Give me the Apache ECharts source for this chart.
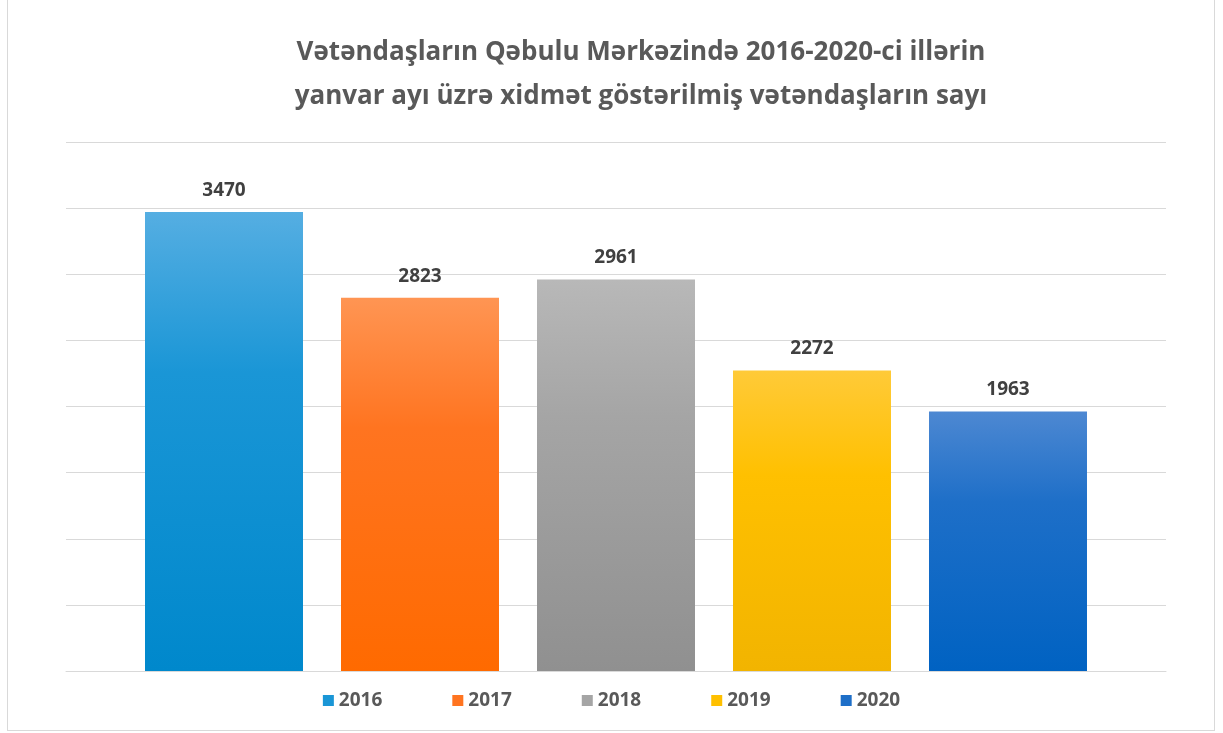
<!DOCTYPE html><html><head><meta charset="utf-8">
<script src="https://cdn.jsdelivr.net/npm/echarts@6/dist/echarts.min.js"></script>
<style>html,body{margin:0;padding:0;background:#fff}#c{width:1223px;height:733px}
#f{position:absolute;left:7px;top:-2px;width:1206px;height:731px;border:1px solid #d9d9d9;pointer-events:none}</style>
</head><body><div id="c"></div><div id="f"></div><script>
const years=['2016','2017','2018','2019','2020'];
const values=[3470,2823,2961,2272,1963];
const topColors=['#55aee2','#ff9553','#b8b8b8','#ffca38','#4d88d2'];
const botColors=['#0088cc','#ff6a00','#909090','#f2b400','#0062c2'];
const legendColors=['#1a96d6','#ff7420','#a5a5a5','#ffc000','#1e6fc8'];
const ch=echarts.init(document.getElementById('c'));
ch.setOption({
 animation:false,
 title:{text:'Vətəndaşların Qəbulu Mərkəzində 2016-2020-ci illərin\nyanvar ayı üzrə xidmət göstərilmiş vətəndaşların sayı',left:636,top:26,textAlign:'center',
  textStyle:{fontFamily:'Open Sans',fontSize:26,fontWeight:'bold',color:'#595959',lineHeight:44}},
 grid:{left:66,right:57,top:142,bottom:62},
 legend:{bottom:18,left:'center',itemWidth:11,itemHeight:11,itemGap:70,icon:'rect',
  textStyle:{fontFamily:'Open Sans',fontSize:19,fontWeight:'bold',color:'#595959'},
  data:years.map((y,i)=>({name:y,itemStyle:{color:legendColors[i]}}))},
 xAxis:{type:'category',data:[''],axisLine:{lineStyle:{color:'#d9d9d9'}},axisTick:{show:false},axisLabel:{show:false}},
 yAxis:{type:'value',min:0,max:4000,interval:500,axisLabel:{show:false},splitLine:{lineStyle:{color:'#d9d9d9'}}},
 series:years.map((y,i)=>({name:y,type:'bar',data:[values[i]],barWidth:158,barGap:'24.05%',
  itemStyle:{color:new echarts.graphic.LinearGradient(0,0,0,1,[{offset:0,color:topColors[i]},{offset:0.35,color:legendColors[i]},{offset:1,color:botColors[i]}])},
  label:{show:true,position:'top',distance:12,fontFamily:'Open Sans',fontSize:19,fontWeight:'bold',color:'#404040'}}))
});
</script></body></html>
